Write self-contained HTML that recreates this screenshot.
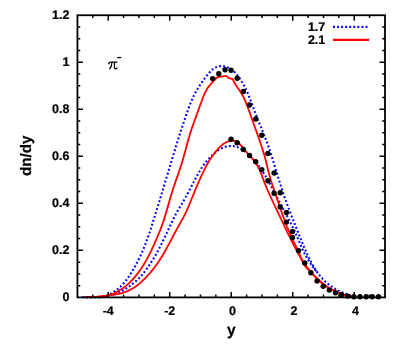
<!DOCTYPE html>
<html><head><meta charset="utf-8"><title>dn/dy</title>
<style>html,body{margin:0;padding:0;background:#fff;overflow:hidden}body{width:407px;height:349px;font-family:"Liberation Sans",sans-serif}</style>
</head><body>
<svg width="407" height="349" viewBox="0 0 407 349" style="display:block;will-change:transform">
<rect width="407" height="349" fill="#fff"/>
<g fill="none" stroke-linejoin="round">
<path d="M82.0,297.3 L82.5,297.2 L83.0,297.2 L83.5,297.2 L84.0,297.2 L84.5,297.2 L85.0,297.2 L85.5,297.2 L86.0,297.2 L86.5,297.2 L87.0,297.2 L87.5,297.2 L88.0,297.2 L88.5,297.3 L89.0,297.3 L89.5,297.3 L90.0,297.3 L90.5,297.3 L91.0,297.3 L91.5,297.3 L92.0,297.3 L92.5,297.3 L93.0,297.3 L93.5,297.3 L94.0,297.3 L94.5,297.3 L95.0,297.3 L95.5,297.3 L96.0,297.3 L96.5,297.3 L97.0,297.3 L97.5,297.3 L98.0,297.3 L98.5,297.3 L99.0,297.3 L99.5,297.2 L100.0,297.2 L100.5,297.1 L101.0,297.1 L101.5,297.0 L102.0,296.9 L102.5,296.8 L103.0,296.7 L103.5,296.6 L104.0,296.4 L104.5,296.3 L105.0,296.1 L105.5,296.0 L106.0,295.8 L106.5,295.6 L107.0,295.4 L107.5,295.2 L108.0,295.0 L108.5,294.8 L109.0,294.6 L109.5,294.3 L110.0,294.1 L110.5,293.8 L111.0,293.6 L111.5,293.3 L112.0,293.0 L112.5,292.7 L113.0,292.4 L113.5,292.1 L114.0,291.7 L114.5,291.4 L115.0,291.0 L115.5,290.7 L116.0,290.3 L116.5,289.9 L117.0,289.6 L117.5,289.2 L118.0,288.8 L118.5,288.3 L119.0,287.9 L119.5,287.5 L120.0,287.0 L120.5,286.6 L121.0,286.1 L121.5,285.6 L122.0,285.1 L122.5,284.6 L123.0,284.0 L123.5,283.5 L124.0,282.9 L124.5,282.3 L125.0,281.7 L125.5,281.1 L126.0,280.5 L126.5,279.8 L127.0,279.1 L127.5,278.4 L128.0,277.7 L128.5,277.0 L129.0,276.3 L129.5,275.5 L130.0,274.8 L130.5,274.0 L131.0,273.2 L131.5,272.4 L132.0,271.6 L132.5,270.8 L133.0,269.9 L133.5,269.1 L134.0,268.2 L134.5,267.3 L135.0,266.4 L135.5,265.5 L136.0,264.6 L136.5,263.7 L137.0,262.7 L137.5,261.8 L138.0,260.8 L138.5,259.8 L139.0,258.8 L139.5,257.8 L140.0,256.7 L140.5,255.7 L141.0,254.6 L141.5,253.5 L142.0,252.4 L142.5,251.2 L143.0,250.0 L143.5,248.8 L144.0,247.6 L144.5,246.4 L145.0,245.1 L145.5,243.8 L146.0,242.5 L146.5,241.2 L147.0,239.8 L147.5,238.4 L148.0,237.0 L148.5,235.6 L149.0,234.1 L149.5,232.7 L150.0,231.2 L150.5,229.7 L151.0,228.1 L151.5,226.6 L152.0,225.0 L152.5,223.4 L153.0,221.9 L153.5,220.3 L154.0,218.7 L154.5,217.1 L155.0,215.5 L155.5,213.8 L156.0,212.2 L156.5,210.6 L157.0,209.0 L157.5,207.4 L158.0,205.7 L158.5,204.1 L159.0,202.5 L159.5,200.8 L160.0,199.2 L160.5,197.5 L161.0,195.9 L161.5,194.2 L162.0,192.6 L162.5,190.9 L163.0,189.3 L163.5,187.6 L164.0,185.9 L164.5,184.3 L165.0,182.6 L165.5,180.9 L166.0,179.3 L166.5,177.6 L167.0,176.0 L167.5,174.3 L168.0,172.6 L168.5,171.0 L169.0,169.3 L169.5,167.6 L170.0,166.0 L170.5,164.3 L171.0,162.7 L171.5,161.0 L172.0,159.3 L172.5,157.7 L173.0,156.0 L173.5,154.4 L174.0,152.8 L174.5,151.1 L175.0,149.5 L175.5,147.9 L176.0,146.2 L176.5,144.6 L177.0,143.0 L177.5,141.4 L178.0,139.8 L178.5,138.3 L179.0,136.7 L179.5,135.1 L180.0,133.6 L180.5,132.1 L181.0,130.5 L181.5,129.0 L182.0,127.5 L182.5,126.0 L183.0,124.5 L183.5,123.0 L184.0,121.5 L184.5,120.1 L185.0,118.6 L185.5,117.1 L186.0,115.7 L186.5,114.2 L187.0,112.8 L187.5,111.3 L188.0,109.9 L188.5,108.6 L189.0,107.2 L189.5,105.9 L190.0,104.6 L190.5,103.3 L191.0,102.1 L191.5,100.9 L192.0,99.8 L192.5,98.6 L193.0,97.5 L193.5,96.4 L194.0,95.4 L194.5,94.4 L195.0,93.4 L195.5,92.5 L196.0,91.6 L196.5,90.7 L197.0,89.8 L197.5,89.0 L198.0,88.1 L198.5,87.3 L199.0,86.6 L199.5,85.8 L200.0,85.0 L200.5,84.3 L201.0,83.6 L201.5,82.8 L202.0,82.1 L202.5,81.4 L203.0,80.7 L203.5,80.0 L204.0,79.3 L204.5,78.7 L205.0,78.0 L205.5,77.3 L206.0,76.7 L206.5,76.0 L207.0,75.4 L207.5,74.8 L208.0,74.2 L208.5,73.6 L209.0,73.0 L209.5,72.5 L210.0,71.9 L210.5,71.4 L211.0,70.9 L211.5,70.5 L212.0,70.0 L212.5,69.6 L213.0,69.2 L213.5,68.8 L214.0,68.5 L214.5,68.2 L215.0,67.9 L215.5,67.6 L216.0,67.3 L216.5,67.1 L217.0,66.9 L217.5,66.7 L218.0,66.6 L218.5,66.4 L219.0,66.3 L219.5,66.2 L220.0,66.2 L220.5,66.1 L221.0,66.1 L221.5,66.1 L222.0,66.1 L222.5,66.1 L223.0,66.2 L223.5,66.2 L224.0,66.3 L224.5,66.4 L225.0,66.5 L225.5,66.7 L226.0,66.8 L226.5,67.0 L227.0,67.1 L227.5,67.3 L228.0,67.6 L228.5,67.8 L229.0,68.0 L229.5,68.3 L230.0,68.6 L230.5,68.9 L231.0,69.2 L231.5,69.6 L232.0,69.9 L232.5,70.3 L233.0,70.7 L233.5,71.2 L234.0,71.6 L234.5,72.1 L235.0,72.6 L235.5,73.1 L236.0,73.7 L236.5,74.2 L237.0,74.8 L237.5,75.4 L238.0,76.1 L238.5,76.7 L239.0,77.4 L239.5,78.1 L240.0,78.8 L240.5,79.6 L241.0,80.4 L241.5,81.2 L242.0,82.0 L242.5,82.8 L243.0,83.7 L243.5,84.6 L244.0,85.5 L244.5,86.4 L245.0,87.4 L245.5,88.4 L246.0,89.5 L246.5,90.5 L247.0,91.6 L247.5,92.7 L248.0,93.9 L248.5,95.1 L249.0,96.3 L249.5,97.6 L250.0,98.8 L250.5,100.1 L251.0,101.4 L251.5,102.8 L252.0,104.1 L252.5,105.5 L253.0,106.8 L253.5,108.2 L254.0,109.5 L254.5,110.8 L255.0,112.2 L255.5,113.5 L256.0,114.7 L256.5,116.0 L257.0,117.3 L257.5,118.5 L258.0,119.8 L258.5,121.0 L259.0,122.2 L259.5,123.5 L260.0,124.7 L260.5,125.9 L261.0,127.1 L261.5,128.4 L262.0,129.6 L262.5,130.8 L263.0,132.0 L263.5,133.3 L264.0,134.6 L264.5,135.8 L265.0,137.1 L265.5,138.4 L266.0,139.7 L266.5,141.1 L267.0,142.4 L267.5,143.8 L268.0,145.2 L268.5,146.7 L269.0,148.1 L269.5,149.6 L270.0,151.1 L270.5,152.6 L271.0,154.1 L271.5,155.7 L272.0,157.2 L272.5,158.8 L273.0,160.4 L273.5,162.0 L274.0,163.6 L274.5,165.3 L275.0,166.9 L275.5,168.6 L276.0,170.2 L276.5,171.8 L277.0,173.5 L277.5,175.1 L278.0,176.8 L278.5,178.4 L279.0,180.0 L279.5,181.6 L280.0,183.2 L280.5,184.8 L281.0,186.3 L281.5,187.9 L282.0,189.4 L282.5,190.9 L283.0,192.4 L283.5,193.9 L284.0,195.3 L284.5,196.8 L285.0,198.2 L285.5,199.6 L286.0,201.0 L286.5,202.4 L287.0,203.8 L287.5,205.2 L288.0,206.5 L288.5,207.9 L289.0,209.2 L289.5,210.6 L290.0,211.9 L290.5,213.2 L291.0,214.5 L291.5,215.8 L292.0,217.1 L292.5,218.4 L293.0,219.7 L293.5,220.9 L294.0,222.2 L294.5,223.5 L295.0,224.7 L295.5,226.0 L296.0,227.2 L296.5,228.5 L297.0,229.7 L297.5,231.0 L298.0,232.2 L298.5,233.5 L299.0,234.7 L299.5,235.9 L300.0,237.2 L300.5,238.4 L301.0,239.6 L301.5,240.9 L302.0,242.1 L302.5,243.3 L303.0,244.6 L303.5,245.8 L304.0,247.0 L304.5,248.2 L305.0,249.3 L305.5,250.5 L306.0,251.6 L306.5,252.8 L307.0,253.9 L307.5,255.0 L308.0,256.0 L308.5,257.1 L309.0,258.1 L309.5,259.1 L310.0,260.1 L310.5,261.1 L311.0,262.0 L311.5,263.0 L312.0,263.9 L312.5,264.8 L313.0,265.6 L313.5,266.5 L314.0,267.3 L314.5,268.1 L315.0,268.9 L315.5,269.7 L316.0,270.4 L316.5,271.2 L317.0,271.9 L317.5,272.6 L318.0,273.2 L318.5,273.9 L319.0,274.6 L319.5,275.2 L320.0,275.8 L320.5,276.4 L321.0,277.0 L321.5,277.6 L322.0,278.1 L322.5,278.7 L323.0,279.2 L323.5,279.7 L324.0,280.2 L324.5,280.7 L325.0,281.2 L325.5,281.7 L326.0,282.1 L326.5,282.6 L327.0,283.0 L327.5,283.4 L328.0,283.8 L328.5,284.3 L329.0,284.6 L329.5,285.0 L330.0,285.4 L330.5,285.8 L331.0,286.1 L331.5,286.5 L332.0,286.8 L332.5,287.2 L333.0,287.5 L333.5,287.8 L334.0,288.1 L334.5,288.5 L335.0,288.7 L335.5,289.0 L336.0,289.3 L336.5,289.6 L337.0,289.9 L337.5,290.1 L338.0,290.4 L338.5,290.7 L339.0,290.9 L339.5,291.1 L340.0,291.4 L340.5,291.6 L341.0,291.8 L341.5,292.1 L342.0,292.3 L342.5,292.5 L343.0,292.7 L343.5,292.9 L344.0,293.1 L344.5,293.3 L345.0,293.5 L345.5,293.7 L346.0,293.9 L346.5,294.0 L347.0,294.2 L347.5,294.4 L348.0,294.6 L348.5,294.7 L349.0,294.9 L349.5,295.1 L350.0,295.3 L350.5,295.4 L351.0,295.6 L351.5,295.7 L352.0,295.9 L352.5,296.1 L353.0,296.2 L353.5,296.4 L354.0,296.5 L354.5,296.7 L355.0,296.8 L355.5,297.0 L356.0,297.1" stroke="#0000ff" stroke-width="2.1" stroke-dasharray="1.9 2.2"/>
<path d="M86.0,297.2 L86.5,297.2 L87.0,297.3 L87.5,297.3 L88.0,297.3 L88.5,297.3 L89.0,297.3 L89.5,297.3 L90.0,297.3 L90.5,297.3 L91.0,297.3 L91.5,297.3 L92.0,297.3 L92.5,297.3 L93.0,297.3 L93.5,297.3 L94.0,297.3 L94.5,297.3 L95.0,297.3 L95.5,297.3 L96.0,297.3 L96.5,297.3 L97.0,297.3 L97.5,297.3 L98.0,297.2 L98.5,297.2 L99.0,297.1 L99.5,297.1 L100.0,297.0 L100.5,297.0 L101.0,296.9 L101.5,296.8 L102.0,296.8 L102.5,296.7 L103.0,296.6 L103.5,296.5 L104.0,296.5 L104.5,296.4 L105.0,296.3 L105.5,296.2 L106.0,296.1 L106.5,296.0 L107.0,295.9 L107.5,295.8 L108.0,295.6 L108.5,295.5 L109.0,295.4 L109.5,295.3 L110.0,295.1 L110.5,295.0 L111.0,294.9 L111.5,294.7 L112.0,294.6 L112.5,294.4 L113.0,294.3 L113.5,294.1 L114.0,293.9 L114.5,293.8 L115.0,293.6 L115.5,293.4 L116.0,293.2 L116.5,293.0 L117.0,292.8 L117.5,292.6 L118.0,292.4 L118.5,292.2 L119.0,292.0 L119.5,291.8 L120.0,291.6 L120.5,291.4 L121.0,291.2 L121.5,290.9 L122.0,290.7 L122.5,290.5 L123.0,290.2 L123.5,290.0 L124.0,289.7 L124.5,289.4 L125.0,289.2 L125.5,288.9 L126.0,288.6 L126.5,288.3 L127.0,288.0 L127.5,287.6 L128.0,287.3 L128.5,287.0 L129.0,286.6 L129.5,286.3 L130.0,285.9 L130.5,285.6 L131.0,285.2 L131.5,284.8 L132.0,284.4 L132.5,284.0 L133.0,283.6 L133.5,283.2 L134.0,282.8 L134.5,282.4 L135.0,281.9 L135.5,281.5 L136.0,281.1 L136.5,280.6 L137.0,280.1 L137.5,279.7 L138.0,279.2 L138.5,278.7 L139.0,278.2 L139.5,277.7 L140.0,277.2 L140.5,276.6 L141.0,276.1 L141.5,275.5 L142.0,275.0 L142.5,274.4 L143.0,273.8 L143.5,273.2 L144.0,272.5 L144.5,271.9 L145.0,271.3 L145.5,270.6 L146.0,269.9 L146.5,269.2 L147.0,268.5 L147.5,267.8 L148.0,267.1 L148.5,266.4 L149.0,265.7 L149.5,264.9 L150.0,264.1 L150.5,263.4 L151.0,262.6 L151.5,261.8 L152.0,261.0 L152.5,260.2 L153.0,259.4 L153.5,258.6 L154.0,257.7 L154.5,256.9 L155.0,256.0 L155.5,255.2 L156.0,254.3 L156.5,253.4 L157.0,252.5 L157.5,251.6 L158.0,250.7 L158.5,249.7 L159.0,248.8 L159.5,247.8 L160.0,246.8 L160.5,245.8 L161.0,244.9 L161.5,243.9 L162.0,242.8 L162.5,241.8 L163.0,240.8 L163.5,239.8 L164.0,238.7 L164.5,237.7 L165.0,236.6 L165.5,235.6 L166.0,234.5 L166.5,233.5 L167.0,232.4 L167.5,231.4 L168.0,230.3 L168.5,229.2 L169.0,228.2 L169.5,227.1 L170.0,226.0 L170.5,225.0 L171.0,223.9 L171.5,222.9 L172.0,221.8 L172.5,220.8 L173.0,219.8 L173.5,218.7 L174.0,217.7 L174.5,216.7 L175.0,215.8 L175.5,214.8 L176.0,213.8 L176.5,212.9 L177.0,212.0 L177.5,211.1 L178.0,210.2 L178.5,209.3 L179.0,208.4 L179.5,207.6 L180.0,206.8 L180.5,205.9 L181.0,205.1 L181.5,204.3 L182.0,203.4 L182.5,202.6 L183.0,201.8 L183.5,200.9 L184.0,200.1 L184.5,199.2 L185.0,198.4 L185.5,197.5 L186.0,196.6 L186.5,195.7 L187.0,194.8 L187.5,193.8 L188.0,192.9 L188.5,192.0 L189.0,191.0 L189.5,190.1 L190.0,189.1 L190.5,188.1 L191.0,187.2 L191.5,186.2 L192.0,185.2 L192.5,184.3 L193.0,183.3 L193.5,182.4 L194.0,181.4 L194.5,180.5 L195.0,179.6 L195.5,178.6 L196.0,177.7 L196.5,176.8 L197.0,175.9 L197.5,175.0 L198.0,174.1 L198.5,173.2 L199.0,172.4 L199.5,171.5 L200.0,170.7 L200.5,169.8 L201.0,169.0 L201.5,168.2 L202.0,167.5 L202.5,166.7 L203.0,166.0 L203.5,165.2 L204.0,164.5 L204.5,163.9 L205.0,163.2 L205.5,162.6 L206.0,161.9 L206.5,161.3 L207.0,160.7 L207.5,160.2 L208.0,159.6 L208.5,159.1 L209.0,158.5 L209.5,158.0 L210.0,157.5 L210.5,157.0 L211.0,156.5 L211.5,156.0 L212.0,155.5 L212.5,155.1 L213.0,154.6 L213.5,154.1 L214.0,153.7 L214.5,153.3 L215.0,152.8 L215.5,152.4 L216.0,152.0 L216.5,151.6 L217.0,151.2 L217.5,150.9 L218.0,150.5 L218.5,150.2 L219.0,149.8 L219.5,149.5 L220.0,149.2 L220.5,148.9 L221.0,148.7 L221.5,148.4 L222.0,148.2 L222.5,147.9 L223.0,147.7 L223.5,147.5 L224.0,147.3 L224.5,147.1 L225.0,146.9 L225.5,146.8 L226.0,146.6 L226.5,146.5 L227.0,146.4 L227.5,146.3 L228.0,146.2 L228.5,146.1 L229.0,146.1 L229.5,146.0 L230.0,146.0 L230.5,146.0 L231.0,146.0 L231.5,146.0 L232.0,146.0 L232.5,146.0 L233.0,146.1 L233.5,146.2 L234.0,146.2 L234.5,146.3 L235.0,146.4 L235.5,146.6 L236.0,146.7 L236.5,146.9 L237.0,147.0 L237.5,147.2 L238.0,147.4 L238.5,147.6 L239.0,147.9 L239.5,148.1 L240.0,148.4 L240.5,148.6 L241.0,148.9 L241.5,149.2 L242.0,149.5 L242.5,149.8 L243.0,150.2 L243.5,150.5 L244.0,150.9 L244.5,151.2 L245.0,151.6 L245.5,152.0 L246.0,152.4 L246.5,152.8 L247.0,153.3 L247.5,153.7 L248.0,154.2 L248.5,154.6 L249.0,155.1 L249.5,155.6 L250.0,156.0 L250.5,156.5 L251.0,157.0 L251.5,157.5 L252.0,158.1 L252.5,158.6 L253.0,159.1 L253.5,159.7 L254.0,160.2 L254.5,160.8 L255.0,161.4 L255.5,162.0 L256.0,162.6 L256.5,163.2 L257.0,163.8 L257.5,164.4 L258.0,165.1 L258.5,165.7 L259.0,166.4 L259.5,167.1 L260.0,167.7 L260.5,168.4 L261.0,169.2 L261.5,169.9 L262.0,170.6 L262.5,171.4 L263.0,172.1 L263.5,172.9 L264.0,173.7 L264.5,174.5 L265.0,175.3 L265.5,176.1 L266.0,177.0 L266.5,177.8 L267.0,178.7 L267.5,179.5 L268.0,180.4 L268.5,181.3 L269.0,182.2 L269.5,183.1 L270.0,184.0 L270.5,185.0 L271.0,185.9 L271.5,186.8 L272.0,187.8 L272.5,188.7 L273.0,189.7 L273.5,190.6 L274.0,191.6 L274.5,192.6 L275.0,193.5 L275.5,194.5 L276.0,195.4 L276.5,196.4 L277.0,197.3 L277.5,198.3 L278.0,199.2 L278.5,200.2 L279.0,201.1 L279.5,202.0 L280.0,202.9 L280.5,203.9 L281.0,204.8 L281.5,205.7 L282.0,206.6 L282.5,207.5 L283.0,208.5 L283.5,209.4 L284.0,210.3 L284.5,211.2 L285.0,212.2 L285.5,213.1 L286.0,214.0 L286.5,215.0 L287.0,215.9 L287.5,216.8 L288.0,217.8 L288.5,218.7 L289.0,219.7 L289.5,220.7 L290.0,221.7 L290.5,222.6 L291.0,223.6 L291.5,224.7 L292.0,225.7 L292.5,226.7 L293.0,227.8 L293.5,228.8 L294.0,229.9 L294.5,231.0 L295.0,232.1 L295.5,233.2 L296.0,234.3 L296.5,235.5 L297.0,236.6 L297.5,237.8 L298.0,238.9 L298.5,240.1 L299.0,241.2 L299.5,242.4 L300.0,243.6 L300.5,244.7 L301.0,245.9 L301.5,247.0 L302.0,248.2 L302.5,249.3 L303.0,250.4 L303.5,251.5 L304.0,252.6 L304.5,253.5 L305.0,254.3 L305.5,255.2 L306.0,256.1 L306.5,256.9 L307.0,257.7 L307.5,258.6 L308.0,259.4 L308.5,260.2 L309.0,261.0 L309.5,261.8 L310.0,262.6 L310.5,263.3 L311.0,264.1 L311.5,264.8 L312.0,265.5 L312.5,266.2 L313.0,266.9 L313.5,267.6 L314.0,268.3 L314.5,269.0 L315.0,269.6 L315.5,270.3 L316.0,270.9 L316.5,271.5 L317.0,272.1 L317.5,272.7" stroke="#0000ff" stroke-width="2.1" stroke-dasharray="1.9 2.2"/>
<path d="M84.0,297.3 L84.5,297.3 L85.0,297.2 L85.5,297.2 L86.0,297.1 L86.5,297.1 L87.0,297.1 L87.5,297.0 L88.0,297.0 L88.5,297.0 L89.0,297.0 L89.5,297.0 L90.0,296.9 L90.5,296.9 L91.0,296.9 L91.5,296.9 L92.0,296.9 L92.5,296.9 L93.0,296.9 L93.5,296.9 L94.0,296.9 L94.5,296.9 L95.0,296.9 L95.5,296.9 L96.0,296.8 L96.5,296.8 L97.0,296.8 L97.5,296.8 L98.0,296.8 L98.5,296.8 L99.0,296.7 L99.5,296.7 L100.0,296.7 L100.5,296.6 L101.0,296.6 L101.5,296.6 L102.0,296.5 L102.5,296.5 L103.0,296.4 L103.5,296.3 L104.0,296.3 L104.5,296.2 L105.0,296.1 L105.5,296.0 L106.0,295.9 L106.5,295.8 L107.0,295.7 L107.5,295.6 L108.0,295.5 L108.5,295.4 L109.0,295.2 L109.5,295.1 L110.0,294.9 L110.5,294.7 L111.0,294.6 L111.5,294.4 L112.0,294.2 L112.5,294.0 L113.0,293.8 L113.5,293.5 L114.0,293.3 L114.5,293.1 L115.0,292.8 L115.5,292.6 L116.0,292.3 L116.5,292.1 L117.0,291.8 L117.5,291.5 L118.0,291.2 L118.5,290.9 L119.0,290.6 L119.5,290.3 L120.0,290.0 L120.5,289.7 L121.0,289.4 L121.5,289.0 L122.0,288.7 L122.5,288.4 L123.0,288.0 L123.5,287.7 L124.0,287.3 L124.5,286.9 L125.0,286.6 L125.5,286.2 L126.0,285.8 L126.5,285.4 L127.0,284.9 L127.5,284.5 L128.0,284.1 L128.5,283.6 L129.0,283.2 L129.5,282.7 L130.0,282.2 L130.5,281.7 L131.0,281.2 L131.5,280.7 L132.0,280.2 L132.5,279.7 L133.0,279.1 L133.5,278.5 L134.0,278.0 L134.5,277.4 L135.0,276.8 L135.5,276.2 L136.0,275.6 L136.5,274.9 L137.0,274.3 L137.5,273.7 L138.0,273.0 L138.5,272.3 L139.0,271.7 L139.5,271.0 L140.0,270.3 L140.5,269.5 L141.0,268.8 L141.5,268.1 L142.0,267.3 L142.5,266.6 L143.0,265.8 L143.5,265.0 L144.0,264.2 L144.5,263.3 L145.0,262.5 L145.5,261.6 L146.0,260.7 L146.5,259.9 L147.0,258.9 L147.5,258.0 L148.0,257.1 L148.5,256.1 L149.0,255.1 L149.5,254.1 L150.0,253.1 L150.5,252.1 L151.0,251.1 L151.5,250.0 L152.0,249.0 L152.5,247.9 L153.0,246.8 L153.5,245.7 L154.0,244.6 L154.5,243.5 L155.0,242.4 L155.5,241.2 L156.0,240.1 L156.5,238.9 L157.0,237.8 L157.5,236.6 L158.0,235.4 L158.5,234.2 L159.0,233.0 L159.5,231.7 L160.0,230.5 L160.5,229.2 L161.0,227.9 L161.5,226.6 L162.0,225.2 L162.5,223.8 L163.0,222.4 L163.5,220.9 L164.0,219.4 L164.5,217.9 L165.0,216.3 L165.5,214.6 L166.0,213.0 L166.5,211.3 L167.0,209.5 L167.5,207.8 L168.0,206.1 L168.5,204.3 L169.0,202.5 L169.5,200.8 L170.0,199.0 L170.5,197.3 L171.0,195.6 L171.5,193.9 L172.0,192.3 L172.5,190.7 L173.0,189.1 L173.5,187.5 L174.0,186.0 L174.5,184.6 L175.0,183.1 L175.5,181.7 L176.0,180.2 L176.5,178.8 L177.0,177.4 L177.5,176.0 L178.0,174.5 L178.5,173.1 L179.0,171.7 L179.5,170.2 L180.0,168.7 L180.5,167.2 L181.0,165.7 L181.5,164.1 L182.0,162.5 L182.5,160.8 L183.0,159.1 L183.5,157.4 L184.0,155.6 L184.5,153.8 L185.0,152.0 L185.5,150.2 L186.0,148.3 L186.5,146.5 L187.0,144.6 L187.5,142.8 L188.0,141.0 L188.5,139.2 L189.0,137.4 L189.5,135.7 L190.0,134.1 L190.5,132.4 L191.0,130.9 L191.5,129.3 L192.0,127.9 L192.5,126.4 L193.0,125.0 L193.5,123.6 L194.0,122.2 L194.5,120.8 L195.0,119.5 L195.5,118.1 L196.0,116.6 L196.5,115.2 L197.0,114.0 L197.5,112.6 L198.0,111.2 L198.5,109.8 L199.0,108.4 L199.5,107.0 L200.0,105.6 L200.5,104.2 L201.0,102.9 L201.5,101.5 L202.0,100.2 L202.5,98.8 L203.0,97.5 L203.5,96.2 L204.0,94.8 L204.5,93.7 L205.0,92.8 L205.5,91.9 L206.0,91.0 L206.5,90.0 L207.0,89.1 L207.5,88.2 L208.0,87.5 L208.5,86.9 L209.0,86.3 L209.5,85.7 L210.0,85.1 L210.5,84.5 L211.0,83.8 L211.5,83.2 L212.0,82.6 L212.5,82.0 L213.0,81.5 L213.5,81.0 L214.0,80.5 L214.5,80.0 L215.0,79.5 L215.5,79.0 L216.0,78.5 L216.5,78.0 L217.0,77.5 L217.5,77.2 L218.0,77.1 L218.5,77.0 L219.0,76.9 L219.5,76.9 L220.0,76.8 L220.5,76.7 L221.0,76.7 L221.5,76.6 L222.0,76.5 L222.5,76.4 L223.0,76.4 L223.5,76.3 L224.0,76.2 L224.5,76.1 L225.0,76.1 L225.5,76.0 L226.0,75.9 L226.5,76.2 L227.0,76.6 L227.5,77.0 L228.0,77.4 L228.5,77.7 L229.0,78.1 L229.5,78.3 L230.0,78.4 L230.5,78.5 L231.0,78.6 L231.5,78.8 L232.0,78.9 L232.5,79.0 L233.0,79.9 L233.5,80.9 L234.0,81.8 L234.5,82.7 L235.0,83.5 L235.5,84.4 L236.0,85.2 L236.5,86.0 L237.0,86.8 L237.5,87.5 L238.0,88.2 L238.5,88.9 L239.0,89.6 L239.5,90.3 L240.0,91.1 L240.5,91.9 L241.0,92.7 L241.5,93.5 L242.0,94.3 L242.5,95.1 L243.0,96.0 L243.5,97.0 L244.0,98.1 L244.5,99.2 L245.0,100.4 L245.5,101.6 L246.0,102.9 L246.5,104.1 L247.0,105.4 L247.5,106.7 L248.0,108.0 L248.5,109.4 L249.0,110.7 L249.5,112.1 L250.0,113.5 L250.5,114.9 L251.0,116.3 L251.5,117.7 L252.0,119.1 L252.5,120.5 L253.0,121.9 L253.5,123.3 L254.0,124.7 L254.5,126.1 L255.0,127.5 L255.5,128.9 L256.0,130.3 L256.5,131.7 L257.0,133.1 L257.5,134.5 L258.0,135.9 L258.5,137.3 L259.0,138.7 L259.5,140.1 L260.0,141.6 L260.5,143.0 L261.0,144.5 L261.5,146.0 L262.0,147.5 L262.5,149.1 L263.0,150.7 L263.5,152.4 L264.0,154.1 L264.5,155.8 L265.0,157.7 L265.5,159.5 L266.0,161.5 L266.5,163.5 L267.0,165.6 L267.5,167.6 L268.0,169.6 L268.5,171.6 L269.0,173.6 L269.5,175.5 L270.0,177.3 L270.5,179.0 L271.0,180.7 L271.5,182.3 L272.0,183.8 L272.5,185.3 L273.0,186.8 L273.5,188.3 L274.0,189.8 L274.5,191.2 L275.0,192.7 L275.5,194.2 L276.0,195.7 L276.5,197.1 L277.0,198.6 L277.5,200.1 L278.0,201.6 L278.5,203.1 L279.0,204.5 L279.5,206.0 L280.0,207.4 L280.5,208.9 L281.0,210.3 L281.5,211.7 L282.0,213.2 L282.5,214.6 L283.0,215.9 L283.5,217.3 L284.0,218.7 L284.5,220.0 L285.0,221.3 L285.5,222.6 L286.0,223.9 L286.5,225.2 L287.0,226.5 L287.5,227.7 L288.0,228.9 L288.5,230.1 L289.0,231.3 L289.5,232.5 L290.0,233.7 L290.5,234.8 L291.0,235.9 L291.5,237.0 L292.0,238.1 L292.5,239.2 L293.0,240.3 L293.5,241.3 L294.0,242.3 L294.5,243.3 L295.0,244.3 L295.5,245.3 L296.0,246.3 L296.5,247.3 L297.0,248.4 L297.5,249.4 L298.0,250.5 L298.5,251.6 L299.0,252.8 L299.5,254.0 L300.0,255.4 L300.5,256.7 L301.0,258.0 L301.5,259.3 L302.0,260.5 L302.5,261.7 L303.0,262.7 L303.5,263.6 L304.0,264.5 L304.5,265.2 L305.0,265.9 L305.5,266.6 L306.0,267.2 L306.5,267.8 L307.0,268.3 L307.5,268.8 L308.0,269.3 L308.5,269.8 L309.0,270.3 L309.5,270.8 L310.0,271.3 L310.5,271.8 L311.0,272.3 L311.5,272.8 L312.0,273.3 L312.5,273.8 L313.0,274.3 L313.5,274.8 L314.0,275.3 L314.5,275.8 L315.0,276.3 L315.5,276.8 L316.0,277.3 L316.5,277.8 L317.0,278.3 L317.5,278.8 L318.0,279.3 L318.5,279.7 L319.0,280.2 L319.5,280.6 L320.0,281.1 L320.5,281.5 L321.0,282.0 L321.5,282.4 L322.0,282.8 L322.5,283.2 L323.0,283.6 L323.5,284.0 L324.0,284.4 L324.5,284.8 L325.0,285.1 L325.5,285.5 L326.0,285.8 L326.5,286.2 L327.0,286.5 L327.5,286.9 L328.0,287.2 L328.5,287.5 L329.0,287.8 L329.5,288.1 L330.0,288.4 L330.5,288.7 L331.0,289.0 L331.5,289.3 L332.0,289.6 L332.5,289.8 L333.0,290.1 L333.5,290.4 L334.0,290.6 L334.5,290.9 L335.0,291.1 L335.5,291.4 L336.0,291.6 L336.5,291.9 L337.0,292.1 L337.5,292.3 L338.0,292.5 L338.5,292.8 L339.0,293.0 L339.5,293.2 L340.0,293.4 L340.5,293.6 L341.0,293.8 L341.5,294.0 L342.0,294.2 L342.5,294.4 L343.0,294.5 L343.5,294.7 L344.0,294.9 L344.5,295.0 L345.0,295.2 L345.5,295.3 L346.0,295.5 L346.5,295.6 L347.0,295.8 L347.5,295.9 L348.0,296.0 L348.5,296.1 L349.0,296.3 L349.5,296.4 L350.0,296.5 L350.5,296.6 L351.0,296.7 L351.5,296.8 L352.0,296.8 L352.5,296.9 L353.0,297.0 L353.5,297.0 L354.0,297.1 L354.5,297.2 L355.0,297.2 L355.5,297.3" stroke="#ff0000" stroke-width="1.8"/>
<path d="M88.0,297.2 L88.5,297.2 L89.0,297.2 L89.5,297.2 L90.0,297.2 L90.5,297.2 L91.0,297.2 L91.5,297.2 L92.0,297.1 L92.5,297.1 L93.0,297.1 L93.5,297.1 L94.0,297.0 L94.5,297.0 L95.0,296.9 L95.5,296.9 L96.0,296.9 L96.5,296.8 L97.0,296.8 L97.5,296.7 L98.0,296.7 L98.5,296.6 L99.0,296.6 L99.5,296.5 L100.0,296.4 L100.5,296.4 L101.0,296.3 L101.5,296.3 L102.0,296.2 L102.5,296.2 L103.0,296.1 L103.5,296.1 L104.0,296.0 L104.5,296.0 L105.0,295.9 L105.5,295.8 L106.0,295.8 L106.5,295.7 L107.0,295.7 L107.5,295.6 L108.0,295.5 L108.5,295.5 L109.0,295.4 L109.5,295.3 L110.0,295.3 L110.5,295.2 L111.0,295.1 L111.5,295.1 L112.0,295.0 L112.5,294.9 L113.0,294.8 L113.5,294.8 L114.0,294.7 L114.5,294.6 L115.0,294.5 L115.5,294.4 L116.0,294.4 L116.5,294.3 L117.0,294.2 L117.5,294.1 L118.0,294.0 L118.5,293.9 L119.0,293.8 L119.5,293.6 L120.0,293.5 L120.5,293.4 L121.0,293.3 L121.5,293.1 L122.0,293.0 L122.5,292.9 L123.0,292.7 L123.5,292.6 L124.0,292.4 L124.5,292.2 L125.0,292.0 L125.5,291.9 L126.0,291.7 L126.5,291.5 L127.0,291.3 L127.5,291.1 L128.0,290.9 L128.5,290.6 L129.0,290.4 L129.5,290.1 L130.0,289.9 L130.5,289.6 L131.0,289.4 L131.5,289.1 L132.0,288.8 L132.5,288.5 L133.0,288.2 L133.5,287.9 L134.0,287.6 L134.5,287.3 L135.0,286.9 L135.5,286.6 L136.0,286.2 L136.5,285.9 L137.0,285.5 L137.5,285.1 L138.0,284.7 L138.5,284.3 L139.0,283.9 L139.5,283.4 L140.0,283.0 L140.5,282.6 L141.0,282.1 L141.5,281.6 L142.0,281.2 L142.5,280.7 L143.0,280.2 L143.5,279.8 L144.0,279.3 L144.5,278.8 L145.0,278.3 L145.5,277.8 L146.0,277.3 L146.5,276.8 L147.0,276.3 L147.5,275.7 L148.0,275.2 L148.5,274.7 L149.0,274.1 L149.5,273.6 L150.0,273.0 L150.5,272.4 L151.0,271.8 L151.5,271.2 L152.0,270.6 L152.5,270.0 L153.0,269.4 L153.5,268.7 L154.0,268.1 L154.5,267.4 L155.0,266.7 L155.5,266.0 L156.0,265.3 L156.5,264.6 L157.0,263.9 L157.5,263.2 L158.0,262.4 L158.5,261.7 L159.0,261.0 L159.5,260.2 L160.0,259.4 L160.5,258.6 L161.0,257.9 L161.5,257.1 L162.0,256.3 L162.5,255.4 L163.0,254.6 L163.5,253.8 L164.0,252.9 L164.5,252.0 L165.0,251.2 L165.5,250.3 L166.0,249.4 L166.5,248.5 L167.0,247.6 L167.5,246.7 L168.0,245.7 L168.5,244.8 L169.0,243.9 L169.5,242.9 L170.0,242.0 L170.5,241.0 L171.0,240.1 L171.5,239.1 L172.0,238.2 L172.5,237.2 L173.0,236.3 L173.5,235.3 L174.0,234.4 L174.5,233.5 L175.0,232.5 L175.5,231.6 L176.0,230.7 L176.5,229.8 L177.0,228.9 L177.5,228.0 L178.0,227.1 L178.5,226.2 L179.0,225.3 L179.5,224.4 L180.0,223.5 L180.5,222.6 L181.0,221.7 L181.5,220.8 L182.0,219.9 L182.5,219.0 L183.0,218.0 L183.5,217.1 L184.0,216.1 L184.5,215.2 L185.0,214.2 L185.5,213.1 L186.0,212.1 L186.5,211.0 L187.0,209.9 L187.5,208.8 L188.0,207.7 L188.5,206.5 L189.0,205.3 L189.5,204.1 L190.0,202.9 L190.5,201.7 L191.0,200.5 L191.5,199.2 L192.0,198.0 L192.5,196.8 L193.0,195.5 L193.5,194.3 L194.0,193.1 L194.5,191.8 L195.0,190.6 L195.5,189.4 L196.0,188.2 L196.5,187.0 L197.0,185.9 L197.5,184.7 L198.0,183.5 L198.5,182.4 L199.0,181.3 L199.5,180.1 L200.0,179.0 L200.5,177.9 L201.0,176.8 L201.5,175.7 L202.0,174.6 L202.5,173.6 L203.0,172.5 L203.5,171.4 L204.0,170.4 L204.5,169.4 L205.0,168.4 L205.5,167.4 L206.0,166.4 L206.5,165.5 L207.0,164.6 L207.5,163.7 L208.0,162.8 L208.5,162.0 L209.0,161.1 L209.5,160.3 L210.0,159.5 L210.5,158.8 L211.0,158.0 L211.5,157.3 L212.0,156.6 L212.5,155.9 L213.0,155.2 L213.5,154.5 L214.0,153.9 L214.5,153.2 L215.0,152.6 L215.5,151.9 L216.0,151.3 L216.5,150.7 L217.0,150.1 L217.5,149.5 L218.0,149.0 L218.5,148.4 L219.0,147.9 L219.5,147.4 L220.0,146.9 L220.5,146.4 L221.0,145.9 L221.5,145.5 L222.0,145.1 L222.5,144.7 L223.0,144.3 L223.5,143.9 L224.0,143.6 L224.5,143.3 L225.0,143.0 L225.5,142.7 L226.0,142.4 L226.5,142.1 L227.0,141.9 L227.5,141.7 L228.0,141.5 L228.5,141.3 L229.0,141.1 L229.5,141.0 L230.0,140.8 L230.5,140.7 L231.0,140.7 L231.5,140.6 L232.0,140.6 L232.5,140.6 L233.0,140.6 L233.5,140.7 L234.0,140.8 L234.5,140.9 L235.0,141.1 L235.5,141.3 L236.0,141.5 L236.5,141.8 L237.0,142.1 L237.5,142.4 L238.0,142.7 L238.5,143.1 L239.0,143.6 L239.5,144.0 L240.0,144.5 L240.5,145.0 L241.0,145.5 L241.5,146.1 L242.0,146.6 L242.5,147.2 L243.0,147.8 L243.5,148.4 L244.0,149.0 L244.5,149.6 L245.0,150.2 L245.5,150.8 L246.0,151.3 L246.5,151.9 L247.0,152.5 L247.5,153.1 L248.0,153.6 L248.5,154.2 L249.0,154.7 L249.5,155.3 L250.0,155.9 L250.5,156.4 L251.0,157.0 L251.5,157.6 L252.0,158.2 L252.5,158.8 L253.0,159.4 L253.5,160.1 L254.0,160.7 L254.5,161.4 L255.0,162.1 L255.5,162.8 L256.0,163.5 L256.5,164.3 L257.0,165.1 L257.5,165.9 L258.0,166.8 L258.5,167.7 L259.0,168.6 L259.5,169.6 L260.0,170.7 L260.5,171.8 L261.0,173.1 L261.5,174.4 L262.0,175.8 L262.5,177.2 L263.0,178.6 L263.5,180.0 L264.0,181.4 L264.5,182.7 L265.0,183.9 L265.5,185.2 L266.0,186.4 L266.5,187.6 L267.0,188.8 L267.5,189.9 L268.0,191.1 L268.5,192.2 L269.0,193.3 L269.5,194.5 L270.0,195.6 L270.5,196.7 L271.0,197.7 L271.5,198.8 L272.0,199.9 L272.5,201.0 L273.0,202.0 L273.5,203.1 L274.0,204.1 L274.5,205.2 L275.0,206.2 L275.5,207.3 L276.0,208.3 L276.5,209.4 L277.0,210.4 L277.5,211.5 L278.0,212.5 L278.5,213.6 L279.0,214.6 L279.5,215.7 L280.0,216.7 L280.5,217.8 L281.0,218.8 L281.5,219.9 L282.0,221.0 L282.5,222.0 L283.0,223.1 L283.5,224.2 L284.0,225.2 L284.5,226.3 L285.0,227.4 L285.5,228.4 L286.0,229.5 L286.5,230.5 L287.0,231.6 L287.5,232.6 L288.0,233.6 L288.5,234.7 L289.0,235.7 L289.5,236.7 L290.0,237.7 L290.5,238.7 L291.0,239.7 L291.5,240.7 L292.0,241.7 L292.5,242.7 L293.0,243.6 L293.5,244.6 L294.0,245.6 L294.5,246.6 L295.0,247.5 L295.5,248.5 L296.0,249.4 L296.5,250.4 L297.0,251.3 L297.5,252.2 L298.0,253.1 L298.5,254.0 L299.0,254.9 L299.5,255.7 L300.0,256.6 L300.5,257.4 L301.0,258.3 L301.5,259.1 L302.0,259.9 L302.5,260.7 L303.0,261.4 L303.5,262.2 L304.0,262.9 L304.5,263.7 L305.0,264.4 L305.5,265.1 L306.0,265.8 L306.5,266.5 L307.0,267.2 L307.5,267.8 L308.0,268.5 L308.5,269.1 L309.0,269.7 L309.5,270.4 L310.0,271.0 L310.5,271.6 L311.0,272.2 L311.5,272.8 L312.0,273.3 L312.5,273.9 L313.0,274.5 L313.5,275.0 L314.0,275.6 L314.5,276.1 L315.0,276.6 L315.5,277.2 L316.0,277.7 L316.5,278.2 L317.0,278.7 L317.5,279.2 L318.0,279.6 L318.5,280.1 L319.0,280.6 L319.5,281.0 L320.0,281.4 L320.5,281.9 L321.0,282.3 L321.5,282.7 L322.0,283.1 L322.5,283.5 L323.0,283.9 L323.5,284.3 L324.0,284.7 L324.5,285.0 L325.0,285.4 L325.5,285.7 L326.0,286.1 L326.5,286.4 L327.0,286.7 L327.5,287.1 L328.0,287.4 L328.5,287.7 L329.0,288.0 L329.5,288.3 L330.0,288.6 L330.5,288.9 L331.0,289.2 L331.5,289.5 L332.0,289.7 L332.5,290.0 L333.0,290.3 L333.5,290.5 L334.0,290.8 L334.5,291.0 L335.0,291.3 L335.5,291.5 L336.0,291.8 L336.5,292.0 L337.0,292.2 L337.5,292.5 L338.0,292.7 L338.5,292.9 L339.0,293.1 L339.5,293.3 L340.0,293.5 L340.5,293.7 L341.0,293.9 L341.5,294.1 L342.0,294.3 L342.5,294.4 L343.0,294.6 L343.5,294.8 L344.0,294.9 L344.5,295.1 L345.0,295.3 L345.5,295.4 L346.0,295.5 L346.5,295.7 L347.0,295.8 L347.5,295.9 L348.0,296.1 L348.5,296.2 L349.0,296.3 L349.5,296.4 L350.0,296.5 L350.5,296.6 L351.0,296.7 L351.5,296.8 L352.0,296.8 L352.5,296.9 L353.0,297.0 L353.5,297.0 L354.0,297.1 L354.5,297.2 L355.0,297.2 L355.5,297.2 L356.0,297.3" stroke="#ff0000" stroke-width="1.8"/>
<path d="M333,26.85 H368" stroke="#0000ff" stroke-width="2.2" stroke-dasharray="1.9 2.17"/>
<path d="M333,39.9 H369.2" stroke="#ff0000" stroke-width="2.1"/>
</g>
<g stroke="#000" stroke-width="1.8" fill="none">
<rect x="77.45" y="15.25" width="307.55" height="282.15"/>
<path d="M92.83,297.40 v-2.80 M92.83,15.25 v2.80 M108.20,297.40 v-5.50 M108.20,15.25 v5.50 M123.58,297.40 v-2.80 M123.58,15.25 v2.80 M138.96,297.40 v-2.80 M138.96,15.25 v2.80 M154.34,297.40 v-2.80 M154.34,15.25 v2.80 M169.71,297.40 v-5.50 M169.71,15.25 v5.50 M185.09,297.40 v-2.80 M185.09,15.25 v2.80 M200.47,297.40 v-2.80 M200.47,15.25 v2.80 M215.85,297.40 v-2.80 M215.85,15.25 v2.80 M231.22,297.40 v-5.50 M231.22,15.25 v5.50 M246.60,297.40 v-2.80 M246.60,15.25 v2.80 M261.98,297.40 v-2.80 M261.98,15.25 v2.80 M277.36,297.40 v-2.80 M277.36,15.25 v2.80 M292.74,297.40 v-5.50 M292.74,15.25 v5.50 M308.11,297.40 v-2.80 M308.11,15.25 v2.80 M323.49,297.40 v-2.80 M323.49,15.25 v2.80 M338.87,297.40 v-2.80 M338.87,15.25 v2.80 M354.25,297.40 v-5.50 M354.25,15.25 v5.50 M369.62,297.40 v-2.80 M369.62,15.25 v2.80 M77.45,285.64 h2.80 M385.00,285.64 h-2.80 M77.45,273.89 h2.80 M385.00,273.89 h-2.80 M77.45,262.13 h2.80 M385.00,262.13 h-2.80 M77.45,250.37 h5.50 M385.00,250.37 h-5.50 M77.45,238.62 h2.80 M385.00,238.62 h-2.80 M77.45,226.86 h2.80 M385.00,226.86 h-2.80 M77.45,215.11 h2.80 M385.00,215.11 h-2.80 M77.45,203.35 h5.50 M385.00,203.35 h-5.50 M77.45,191.59 h2.80 M385.00,191.59 h-2.80 M77.45,179.84 h2.80 M385.00,179.84 h-2.80 M77.45,168.08 h2.80 M385.00,168.08 h-2.80 M77.45,156.32 h5.50 M385.00,156.32 h-5.50 M77.45,144.57 h2.80 M385.00,144.57 h-2.80 M77.45,132.81 h2.80 M385.00,132.81 h-2.80 M77.45,121.06 h2.80 M385.00,121.06 h-2.80 M77.45,109.30 h5.50 M385.00,109.30 h-5.50 M77.45,97.54 h2.80 M385.00,97.54 h-2.80 M77.45,85.79 h2.80 M385.00,85.79 h-2.80 M77.45,74.03 h2.80 M385.00,74.03 h-2.80 M77.45,62.27 h5.50 M385.00,62.27 h-5.50 M77.45,50.52 h2.80 M385.00,50.52 h-2.80 M77.45,38.76 h2.80 M385.00,38.76 h-2.80 M77.45,27.01 h2.80 M385.00,27.01 h-2.80" stroke-width="1.5"/>
</g>
<g fill="#000">
<circle cx="212.7" cy="78.6" r="2.7"/>
<circle cx="218.8" cy="73.8" r="2.7"/>
<circle cx="225.0" cy="69.8" r="2.7"/>
<circle cx="231.1" cy="70.3" r="2.7"/>
<circle cx="237.2" cy="78.2" r="2.7"/>
<circle cx="243.4" cy="91.4" r="2.7"/>
<circle cx="249.5" cy="105.0" r="2.7"/>
<circle cx="255.7" cy="119.0" r="2.7"/>
<circle cx="261.8" cy="135.2" r="2.7"/>
<circle cx="267.9" cy="153.5" r="2.7"/>
<circle cx="274.1" cy="173.0" r="2.7"/>
<circle cx="280.2" cy="192.7" r="2.7"/>
<circle cx="286.4" cy="212.5" r="2.7"/>
<circle cx="292.5" cy="231.5" r="2.7"/>
<circle cx="231.1" cy="139.2" r="2.7"/>
<circle cx="237.2" cy="142.8" r="2.7"/>
<circle cx="243.4" cy="149.4" r="2.7"/>
<circle cx="249.5" cy="155.5" r="2.7"/>
<circle cx="255.7" cy="161.8" r="2.7"/>
<circle cx="261.8" cy="169.6" r="2.7"/>
<circle cx="267.9" cy="180.7" r="2.7"/>
<circle cx="274.1" cy="193.2" r="2.7"/>
<circle cx="280.2" cy="206.9" r="2.7"/>
<circle cx="286.4" cy="222.1" r="2.7"/>
<circle cx="292.5" cy="237.5" r="2.7"/>
<circle cx="298.6" cy="250.8" r="2.7"/>
<circle cx="304.8" cy="263.0" r="2.7"/>
<circle cx="310.9" cy="272.7" r="2.7"/>
<circle cx="317.1" cy="280.9" r="2.7"/>
<circle cx="323.2" cy="286.3" r="2.7"/>
<circle cx="329.3" cy="290.1" r="2.7"/>
<circle cx="335.5" cy="292.8" r="2.7"/>
<circle cx="341.6" cy="294.8" r="2.7"/>
<circle cx="347.8" cy="296.1" r="2.7"/>
<circle cx="353.9" cy="296.7" r="2.7"/>
<circle cx="360.0" cy="296.8" r="2.7"/>
<circle cx="366.2" cy="296.8" r="2.7"/>
<circle cx="372.3" cy="296.8" r="2.7"/>
<circle cx="378.5" cy="296.8" r="2.7"/>
</g>
<g font-family="'Liberation Sans', sans-serif" font-weight="bold" font-size="12.5px" fill="#000" stroke="#000" stroke-width="0.22" stroke-linejoin="round" text-rendering="geometricPrecision">
<text x="69.4" y="301.4" text-anchor="end">0</text>
<text x="69.4" y="254.4" text-anchor="end">0.2</text>
<text x="69.4" y="207.3" text-anchor="end">0.4</text>
<text x="69.4" y="160.3" text-anchor="end">0.6</text>
<text x="69.4" y="113.3" text-anchor="end">0.8</text>
<text x="69.4" y="66.3" text-anchor="end">1</text>
<text x="69.4" y="19.2" text-anchor="end">1.2</text>
<text x="108.2" y="314.5" text-anchor="middle">-4</text>
<text x="169.7" y="314.5" text-anchor="middle">-2</text>
<text x="232.4" y="314.5" text-anchor="middle">0</text>
<text x="293.9" y="314.5" text-anchor="middle">2</text>
<text x="355.4" y="314.5" text-anchor="middle">4</text>
<text x="325.3" y="30.9" text-anchor="end">1.7</text>
<text x="325.3" y="43.7" text-anchor="end">2.1</text>
<text x="231.3" y="334.5" text-anchor="middle" font-size="15.6px">y</text>
<text transform="translate(30.9,155.8) rotate(-90)" text-anchor="middle" font-size="15.2px">dn/dy</text>
</g>
<g font-family="'Liberation Serif', serif" fill="#000">
<g fill="none" stroke="#000" stroke-linecap="round" stroke-linejoin="round" transform="translate(0.2,0.4)"><path d="M108.5,63.1 C108.9,61.8 109.7,61.7 110.8,61.7 L116.8,61.7" stroke-width="1.4"/><path d="M111.7,62 C111.6,64.6 111,66.9 109.4,68.5" stroke-width="1.25"/><path d="M114.3,62 L114.2,66.8 C114.2,68.5 115.4,68.9 116.8,67.6" stroke-width="1.3"/></g>
<rect x="117.3" y="56.9" width="3.9" height="1.3"/>
</g>
</svg>
</body></html>
